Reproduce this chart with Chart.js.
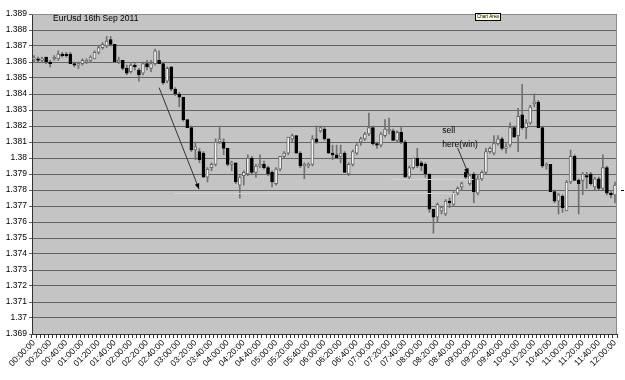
<!DOCTYPE html>
<html lang="en">
<head>
    <meta charset="UTF-8">
    <title>EurUsd 16th Sep 2011</title>
    <script src="https://cdn.jsdelivr.net/npm/chart.js"></script>
    <style>
        html, body { margin: 0; padding: 0; background: #ffffff; }
        #wrap { width: 625px; height: 380px; }
    </style>
</head>
<body>
<div id="wrap">
    <canvas id="grafico" width="625" height="380"></canvas>
</div>

<script>
    // 5 minute candles, 00:00:00 .. 12:00:00
    const horas = [];
    for (let i = 0; i <= 144; i++) {
        const m = i * 5;
        horas.push(String(Math.floor(m / 60)).padStart(2, '0') + ':' + String(m % 60).padStart(2, '0') + ':00');
    }

    const apertura = [
        1.3862, 1.3862, 1.3861, 1.3863, 1.3860, 1.3862, 1.3862, 1.3865, 1.3865, 1.3865,
        1.3859, 1.3858, 1.3859, 1.3860, 1.3861, 1.3862, 1.3866, 1.3869, 1.3870, 1.3874,
        1.3871, 1.3860, 1.3861, 1.3856, 1.3854, 1.3858, 1.3855, 1.3853, 1.3859, 1.3856,
        1.3859, 1.3861, 1.3859, 1.3848, 1.3857, 1.3843, 1.3840, 1.3838, 1.3824, 1.3819,
        1.3805, 1.3804, 1.3803, 1.3788, 1.3794, 1.3796, 1.3810, 1.3810, 1.3806, 1.3796,
        1.3797, 1.3783, 1.3789, 1.3790, 1.3800, 1.3791, 1.3795, 1.3796, 1.3794, 1.3791,
        1.3784, 1.3793, 1.3801, 1.3803, 1.3812, 1.3814, 1.3803, 1.3795, 1.3795, 1.3796,
        1.3812, 1.3817, 1.3818, 1.3812, 1.3803, 1.3802, 1.3801, 1.3803, 1.3790, 1.3796,
        1.3803, 1.3810, 1.3812, 1.3815, 1.3819, 1.3809, 1.3808, 1.3814, 1.3817, 1.3817,
        1.3811, 1.3816, 1.3810, 1.3788, 1.3794, 1.3800, 1.3797, 1.3796, 1.3790, 1.3768,
        1.3763, 1.3767, 1.3765, 1.3773, 1.3771, 1.3778, 1.3782, 1.3791, 1.3784, 1.3790,
        1.3778, 1.3787, 1.3791, 1.3804, 1.3803, 1.3809, 1.3812, 1.3806, 1.3808, 1.3819,
        1.3814, 1.3827, 1.3819, 1.3822, 1.3834, 1.3835, 1.3819, 1.3795, 1.3796, 1.3779,
        1.3773, 1.3776, 1.3767, 1.3785, 1.3801, 1.3786, 1.3786, 1.3789, 1.3790, 1.3782,
        1.3787, 1.3781, 1.3794, 1.3778, 1.3777
    ];
    const maximo = [
        1.3864, 1.3863, 1.3863, 1.3863, 1.3861, 1.3864, 1.3867, 1.3866, 1.3866, 1.3866,
        1.3860, 1.3860, 1.3862, 1.3862, 1.3864, 1.3867, 1.3870, 1.3872, 1.3876, 1.3876,
        1.3871, 1.3863, 1.3861, 1.3858, 1.3859, 1.3859, 1.3856, 1.3860, 1.3861, 1.3861,
        1.3868, 1.3867, 1.3860, 1.3857, 1.3857, 1.3844, 1.3841, 1.3838, 1.3824, 1.3820,
        1.3810, 1.3806, 1.3804, 1.3794, 1.3797, 1.3812, 1.3819, 1.3812, 1.3806, 1.3798,
        1.3797, 1.3789, 1.3792, 1.3802, 1.3801, 1.3796, 1.3802, 1.3798, 1.3795, 1.3792,
        1.3794, 1.3801, 1.3804, 1.3813, 1.3815, 1.3814, 1.3804, 1.3797, 1.3797, 1.3814,
        1.3820, 1.3820, 1.3819, 1.3812, 1.3808, 1.3808, 1.3808, 1.3804, 1.3797, 1.3805,
        1.3809, 1.3813, 1.3816, 1.3828, 1.3820, 1.3810, 1.3816, 1.3824, 1.3825, 1.3818,
        1.3817, 1.3819, 1.3811, 1.3795, 1.3800, 1.3806, 1.3798, 1.3797, 1.3790, 1.3768,
        1.3772, 1.3770, 1.3774, 1.3775, 1.3779, 1.3782, 1.3785, 1.3793, 1.3790, 1.3791,
        1.3789, 1.3792, 1.3806, 1.3807, 1.3814, 1.3814, 1.3813, 1.3809, 1.3822, 1.3820,
        1.3831, 1.3846, 1.3824, 1.3833, 1.3840, 1.3836, 1.3819, 1.3797, 1.3796, 1.3780,
        1.3778, 1.3777, 1.3786, 1.3805, 1.3802, 1.3787, 1.3791, 1.3791, 1.3791, 1.3788,
        1.3788, 1.3802, 1.3795, 1.3779, 1.3785
    ];
    const minimo = [
        1.3860, 1.3860, 1.3860, 1.3859, 1.3857, 1.3861, 1.3861, 1.3863, 1.3863, 1.3859,
        1.3857, 1.3856, 1.3858, 1.3859, 1.3860, 1.3862, 1.3865, 1.3868, 1.3869, 1.3870,
        1.3860, 1.3859, 1.3855, 1.3852, 1.3853, 1.3855, 1.3848, 1.3852, 1.3855, 1.3854,
        1.3858, 1.3859, 1.3846, 1.3847, 1.3842, 1.3839, 1.3832, 1.3823, 1.3819, 1.3804,
        1.3799, 1.3797, 1.3788, 1.3785, 1.3792, 1.3795, 1.3809, 1.3802, 1.3795, 1.3792,
        1.3784, 1.3775, 1.3783, 1.3789, 1.3790, 1.3788, 1.3794, 1.3793, 1.3789, 1.3782,
        1.3783, 1.3792, 1.3800, 1.3802, 1.3810, 1.3803, 1.3794, 1.3787, 1.3794, 1.3795,
        1.3809, 1.3816, 1.3811, 1.3803, 1.3799, 1.3800, 1.3797, 1.3791, 1.3789, 1.3795,
        1.3802, 1.3808, 1.3811, 1.3814, 1.3808, 1.3806, 1.3807, 1.3813, 1.3815, 1.3811,
        1.3810, 1.3809, 1.3788, 1.3787, 1.3793, 1.3794, 1.3792, 1.3788, 1.3766, 1.3753,
        1.3760, 1.3765, 1.3764, 1.3769, 1.3770, 1.3777, 1.3780, 1.3787, 1.3783, 1.3772,
        1.3777, 1.3786, 1.3790, 1.3803, 1.3802, 1.3808, 1.3805, 1.3803, 1.3807, 1.3813,
        1.3804, 1.3818, 1.3812, 1.3821, 1.3832, 1.3819, 1.3794, 1.3793, 1.3779, 1.3772,
        1.3765, 1.3766, 1.3767, 1.3784, 1.3786, 1.3765, 1.3777, 1.3781, 1.3783, 1.3780,
        1.3780, 1.3780, 1.3777, 1.3775, 1.3772
    ];
    const cierre = [
        1.3862, 1.3861, 1.3862, 1.3860, 1.3859, 1.3863, 1.3865, 1.3864, 1.3864, 1.3859,
        1.3858, 1.3859, 1.3861, 1.3861, 1.3863, 1.3866, 1.3869, 1.3871, 1.3873, 1.3871,
        1.3860, 1.3861, 1.3856, 1.3853, 1.3858, 1.3857, 1.3852, 1.3859, 1.3857, 1.3859,
        1.3867, 1.3859, 1.3847, 1.3856, 1.3843, 1.3840, 1.3838, 1.3824, 1.3819, 1.3805,
        1.3807, 1.3799, 1.3788, 1.3793, 1.3796, 1.3810, 1.3812, 1.3806, 1.3796, 1.3797,
        1.3785, 1.3788, 1.3791, 1.3800, 1.3791, 1.3795, 1.3796, 1.3794, 1.3790, 1.3785,
        1.3793, 1.3801, 1.3803, 1.3813, 1.3814, 1.3803, 1.3795, 1.3796, 1.3796, 1.3812,
        1.3810, 1.3819, 1.3812, 1.3803, 1.3802, 1.3800, 1.3803, 1.3791, 1.3796, 1.3804,
        1.3808, 1.3812, 1.3815, 1.3819, 1.3809, 1.3808, 1.3815, 1.3818, 1.3818, 1.3811,
        1.3816, 1.3810, 1.3788, 1.3794, 1.3800, 1.3795, 1.3795, 1.3790, 1.3768, 1.3763,
        1.3771, 1.3769, 1.3773, 1.3772, 1.3778, 1.3781, 1.3784, 1.3788, 1.3789, 1.3779,
        1.3787, 1.3791, 1.3804, 1.3806, 1.3809, 1.3812, 1.3806, 1.3807, 1.3819, 1.3813,
        1.3826, 1.3819, 1.3822, 1.3832, 1.3835, 1.3819, 1.3795, 1.3796, 1.3779, 1.3773,
        1.3777, 1.3769, 1.3785, 1.3801, 1.3786, 1.3784, 1.3790, 1.3788, 1.3784, 1.3787,
        1.3781, 1.3794, 1.3778, 1.3777, 1.3783
    ];

    const ticksY = [1.369, 1.370, 1.371, 1.372, 1.373, 1.374, 1.375, 1.376, 1.377, 1.378, 1.379,
                    1.380, 1.381, 1.382, 1.383, 1.384, 1.385, 1.386, 1.387, 1.388, 1.389];

    // hand drawn marks on the sheet (category index, price)
    const flechas = [
        { x1: 31.0, y1: 1.3844, x2: 40.9, y2: 1.37806 },
        { x1: 105.0, y1: 1.38063, x2: 107.7, y2: 1.3790 }
    ];
    const lineasAmarillas = [
        { x1: 34.7, x2: 104.5, y: 1.37781 },
        { x1: 88.6, x2: 108.9, y: 1.37869 }
    ];
    const notas = [
        { x: 101.2, y: 1.38169, texto: 'sell' },
        { x: 101.2, y: 1.38081, texto: 'here(win)' }
    ];

    const fuente = "'Liberation Sans', Arial, sans-serif";
    const sube = apertura.map((o, i) => cierre[i] >= o);

    const fondo = {
        id: 'fondo',
        beforeDatasetsDraw(chart) {
            const { ctx, chartArea: a } = chart;
            ctx.save();
            ctx.fillStyle = '#c4c4c4';
            ctx.globalCompositeOperation = 'destination-over';
            ctx.fillRect(a.left, a.top, a.right - a.left, a.bottom - a.top);
            ctx.restore();
        },
        afterDatasetsDraw(chart) {
            const { ctx, chartArea: a, scales: { x, y } } = chart;
            ctx.save();
            ctx.strokeStyle = '#8c8c8c';
            ctx.lineWidth = 1;
            ctx.beginPath();
            ctx.moveTo(a.left, a.top + 0.5);
            ctx.lineTo(a.right - 0.5, a.top + 0.5);
            ctx.lineTo(a.right - 0.5, a.bottom);
            ctx.stroke();

            // lineas amarillas
            ctx.strokeStyle = '#e4e450';
            lineasAmarillas.forEach(l => {
                const py = Math.round(y.getPixelForValue(l.y)) + 0.5;
                ctx.beginPath();
                ctx.moveTo(x.getPixelForValue(l.x1), py);
                ctx.lineTo(x.getPixelForValue(l.x2), py);
                ctx.stroke();
            });

            // flechas
            ctx.strokeStyle = '#333';
            ctx.fillStyle = '#000';
            flechas.forEach(f => {
                const ax = x.getPixelForValue(f.x1), ay = y.getPixelForValue(f.y1);
                const bx = x.getPixelForValue(f.x2), by = y.getPixelForValue(f.y2);
                const ang = Math.atan2(by - ay, bx - ax);
                ctx.beginPath();
                ctx.moveTo(ax, ay);
                ctx.lineTo(bx, by);
                ctx.stroke();
                ctx.beginPath();
                ctx.moveTo(bx, by);
                ctx.lineTo(bx - 6 * Math.cos(ang - 0.4), by - 6 * Math.sin(ang - 0.4));
                ctx.lineTo(bx - 6 * Math.cos(ang + 0.4), by - 6 * Math.sin(ang + 0.4));
                ctx.closePath();
                ctx.fill();
            });

            // textos
            ctx.fillStyle = '#000';
            ctx.font = '8.5px ' + fuente;
            ctx.textBaseline = 'middle';
            ctx.textAlign = 'left';
            notas.forEach(n => ctx.fillText(n.texto, x.getPixelForValue(n.x), y.getPixelForValue(n.y)));
            ctx.fillText('EurUsd 16th Sep 2011', a.left + 21, a.top + 5);

            // etiqueta "Chart Area"
            ctx.fillStyle = '#ffffe1';
            ctx.fillRect(475.5, 13.5, 25, 7);
            ctx.strokeStyle = '#000';
            ctx.strokeRect(475.5, 13.5, 25, 7);
            ctx.fillStyle = '#000';
            ctx.font = '4.5px ' + fuente;
            ctx.fillText('Chart Area', 477, 17.2);

            // marca de la leyenda
            ctx.fillRect(a.right + 4, Math.round(y.getPixelForValue(1.378)), 3, 1);
            ctx.restore();
        }
    };

    const chart = new Chart(document.getElementById('grafico'), {
        type: 'bar',
        data: {
            labels: horas,
            datasets: [
                {
                    label: 'Cuerpo',
                    data: apertura.map((o, i) => [o, cierre[i]]),
                    backgroundColor: sube.map(s => s ? '#f4f4f4' : '#000000'),
                    borderColor: sube.map(s => s ? '#666666' : '#000000'),
                    borderWidth: 1,
                    borderSkipped: false,
                    barThickness: 3,
                    minBarLength: 1,
                    grouped: false,
                    order: 1
                },
                {
                    label: 'Mecha',
                    data: minimo.map((l, i) => [l, maximo[i]]),
                    backgroundColor: '#707070',
                    borderWidth: 0,
                    barThickness: 1,
                    grouped: false,
                    order: 2
                }
            ]
        },
        options: {
            responsive: false,
            animation: false,
            layout: { padding: { top: 14, right: 8, left: 0, bottom: 0 } },
            plugins: { legend: { display: false }, tooltip: { enabled: false } },
            scales: {
                x: {
                    grid: { display: true, drawOnChartArea: false, drawTicks: true, tickLength: 4, color: '#333' },
                    border: { color: '#333' },
                    ticks: {
                        autoSkip: false,
                        minRotation: 45,
                        maxRotation: 45,
                        padding: 0,
                        color: '#000',
                        font: { family: fuente, size: 8.5 },
                        callback: function (v, i) { return i % 4 === 0 ? horas[i] : ''; }
                    },
                    afterFit: s => { s.height = 46; }
                },
                y: {
                    min: 1.369,
                    max: 1.389,
                    grid: { color: '#646464', tickLength: 3 },
                    border: { color: '#333' },
                    afterBuildTicks: s => { s.ticks = ticksY.map(v => ({ value: v })); },
                    ticks: {
                        padding: 2,
                        color: '#000',
                        font: { family: fuente, size: 8.5 },
                        callback: v => String(parseFloat(v.toFixed(3)))
                    },
                    afterFit: s => { s.width = 32; }
                }
            }
        },
        plugins: [fondo]
    });
</script>
</body>
</html>
